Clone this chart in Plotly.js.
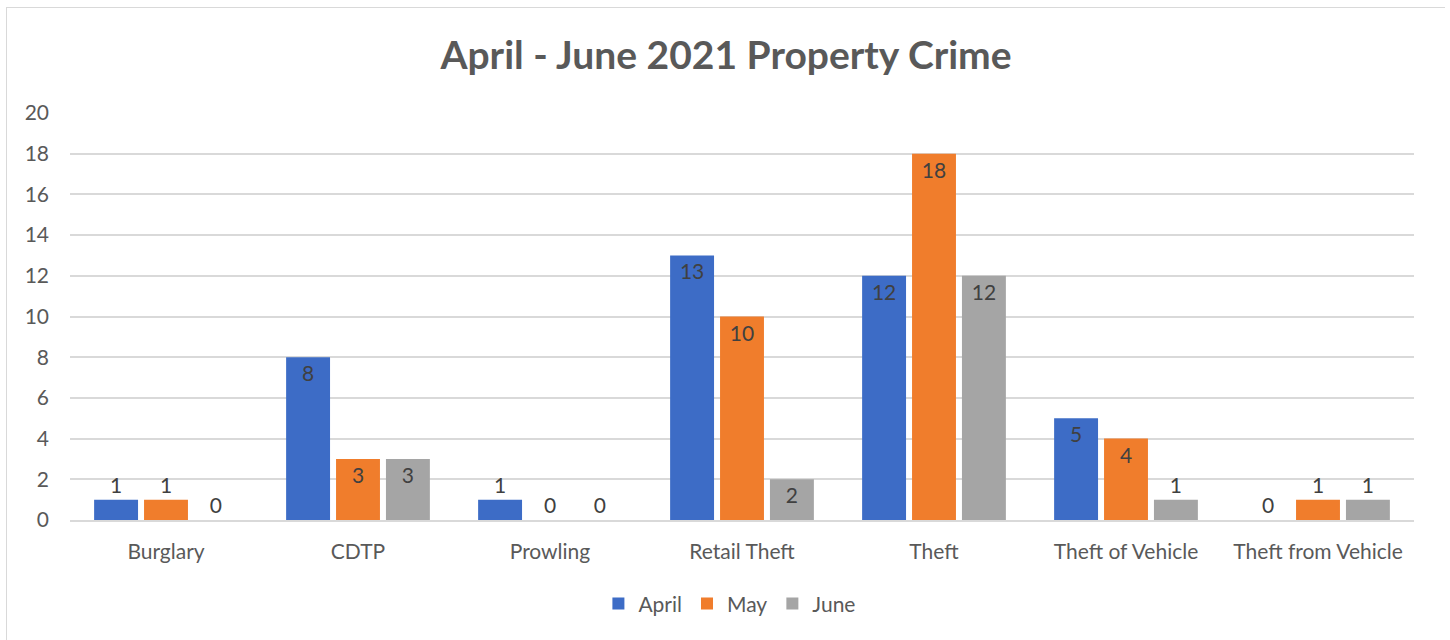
<!DOCTYPE html>
<html>
<head>
<meta charset="utf-8">
<script src="https://cdn.plot.ly/plotly-3.0.1.min.js"></script>
<style>
  html, body { margin: 0; padding: 0; background: #ffffff; }
  #frame { position: absolute; left: 6px; top: 7px; width: 1439px; height: 640px; border-left: 2px solid #d9d9d9; border-top: 2px solid #d9d9d9; border-right: 2px solid #d9d9d9; box-sizing: border-box; }
  #chart { position: absolute; left: 7px; top: 8px; width: 1438px; height: 632px; }
</style>
</head>
<body>
<div id="frame"></div>
<div id="chart"></div>
<script>
const categories = ["Burglary", "CDTP", "Prowling", "Retail Theft", "Theft", "Theft of Vehicle", "Theft from Vehicle"];
const april = [1, 8, 1, 13, 12, 5, 0];
const may = [1, 3, 0, 10, 18, 4, 1];
const june = [0, 3, 0, 2, 12, 1, 1];
const seriesNames = ["April", "May", "June"];
const yTicks = [0, 2, 4, 6, 8, 10, 12, 14, 16, 18, 20];

const colors = ["#3D6CC6", "#F07D2C", "#A5A5A5"];
const font = "Lato, 'Open Sans', sans-serif";

function pos(vals) { return vals.map(v => v >= 2 ? "inside" : "outside"); }

const traces = [april, may, june].map((vals, i) => ({
  type: "bar",
  name: seriesNames[i],
  x: categories,
  y: vals,
  text: vals.map(String),
  textposition: pos(vals),
  insidetextanchor: "end",
  constraintext: "none",
  cliponaxis: false,
  textfont: { family: font, size: 21, color: "#404040" },
  insidetextfont: { family: font, size: 21, color: "#404040" },
  outsidetextfont: { family: font, size: 21, color: "#404040" },
  marker: { color: colors[i], line: { width: 0 } },
  hoverinfo: "none"
}));

const layout = {
  width: 1438,
  height: 632,
  margin: { l: 63, r: 31, t: 105, b: 120 },
  paper_bgcolor: "#ffffff",
  plot_bgcolor: "#ffffff",
  font: { family: font, color: "#595959", size: 21 },
  title: {
    text: "<b>April - June 2021 Property Crime</b>",
    font: { family: font, size: 39, color: "#595959" },
    x: 0.5, xanchor: "center",
    y: 1 - 47 / 632, yref: "container", yanchor: "middle"
  },
  barmode: "group",
  bargap: 0.22,
  bargroupgap: 0.12,
  xaxis: {
    type: "category",
    showgrid: false,
    showline: true,
    linecolor: "#d9d9d9",
    linewidth: 2,
    ticks: "",
    ticklabelstandoff: 12,
    tickfont: { family: font, size: 21, color: "#595959" }
  },
  yaxis: {
    range: [0, 20],
    tickvals: yTicks,
    ticktext: yTicks.map(String),
    showgrid: true,
    gridcolor: "#d9d9d9",
    gridwidth: 2,
    zeroline: false,
    showline: false,
    ticks: "",
    ticklabelstandoff: 20,
    tickfont: { family: font, size: 21, color: "#595959" }
  },
  showlegend: true,
  legend: {
    orientation: "h",
    x: 0.491, xanchor: "center",
    y: -0.206, yanchor: "middle",
    font: { family: font, size: 21, color: "#595959" },
    itemwidth: 30,
    traceorder: "normal"
  }
};

Plotly.newPlot("chart", traces, layout, { displayModeBar: false, staticPlot: true });
</script>
</body>
</html>
